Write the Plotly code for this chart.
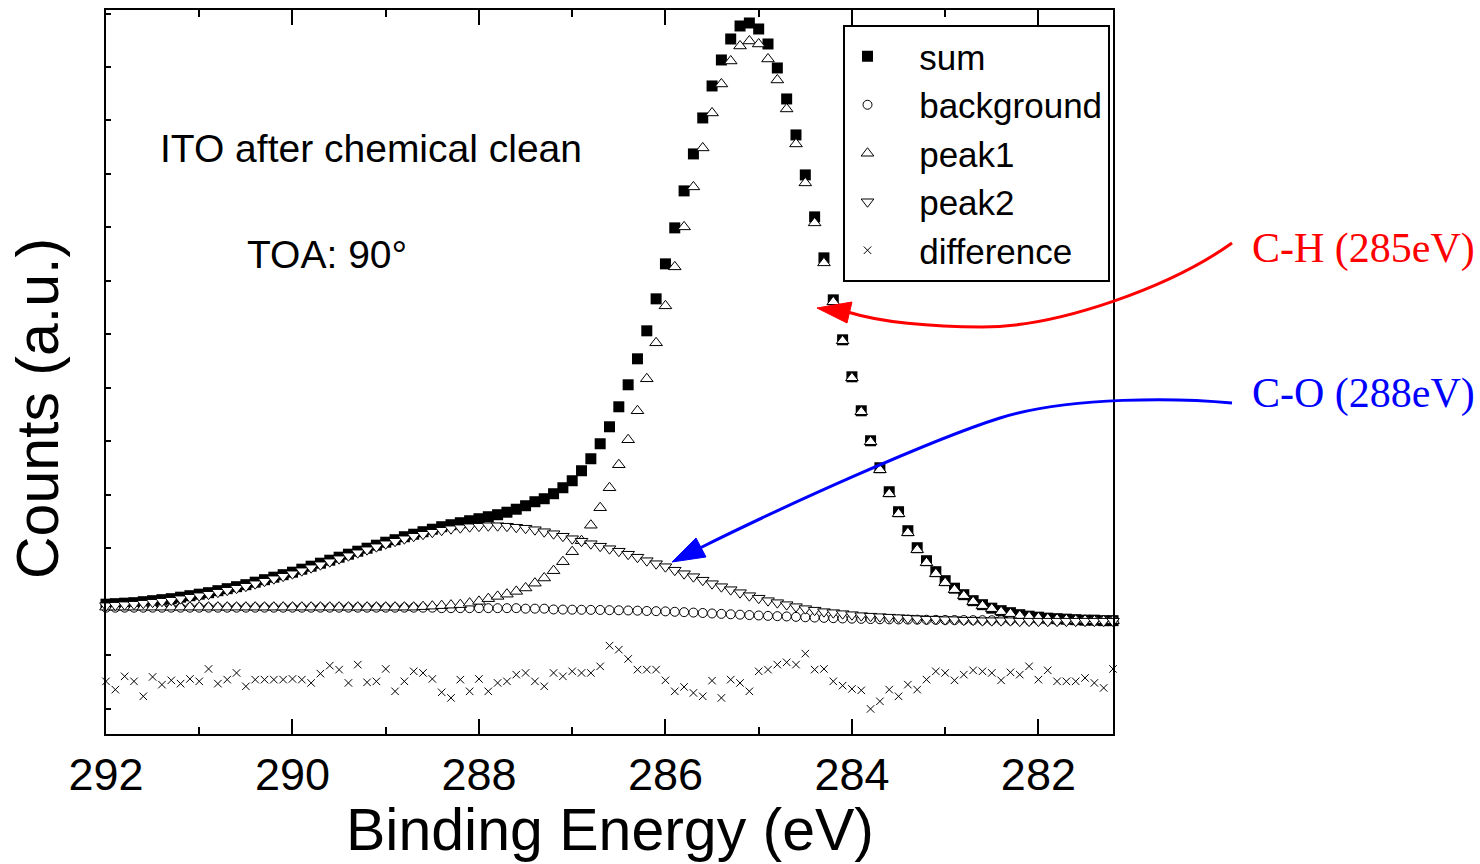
import plotly.graph_objects as go

# ---------------- data (binding energy grid, eV) ----------------
energy = [
    292.0, 291.9, 291.8, 291.7, 291.6, 291.5, 291.4, 291.3, 291.2, 291.1,
    291.0, 290.9, 290.8, 290.7, 290.6, 290.5, 290.4, 290.3, 290.2, 290.1,
    290.0, 289.9, 289.8, 289.7, 289.6, 289.5, 289.4, 289.3, 289.2, 289.1,
    289.0, 288.9, 288.8, 288.7, 288.6, 288.5, 288.4, 288.3, 288.2, 288.1,
    288.0, 287.9, 287.8, 287.7, 287.6, 287.5, 287.4, 287.3, 287.2, 287.1,
    287.0, 286.9, 286.8, 286.7, 286.6, 286.5, 286.4, 286.3, 286.2, 286.1,
    286.0, 285.9, 285.8, 285.7, 285.6, 285.5, 285.4, 285.3, 285.2, 285.1,
    285.0, 284.9, 284.8, 284.7, 284.6, 284.5, 284.4, 284.3, 284.2, 284.1,
    284.0, 283.9, 283.8, 283.7, 283.6, 283.5, 283.4, 283.3, 283.2, 283.1,
    283.0, 282.9, 282.8, 282.7, 282.6, 282.5, 282.4, 282.3, 282.2, 282.1,
    282.0, 281.9, 281.8, 281.7, 281.6, 281.5, 281.4, 281.3, 281.2,
]

sum_counts = [
    129.5, 130, 130.5, 131, 132, 133, 134, 135, 136.5, 138,
    139.5, 141, 143, 145, 147, 149, 151.5, 154, 156.5, 159,
    161.5, 164.5, 167.5, 170.5, 173.5, 176.5, 179.5, 182.5, 185.5, 188.5,
    191.5, 194, 197, 199.5, 202, 204.5, 207, 209, 211, 213,
    215, 217, 219, 221.5, 224.5, 228, 232, 235, 240, 246,
    253, 263, 275, 290, 307, 327, 349, 375, 403, 435,
    470, 506, 543, 580, 616, 648, 674, 695, 708, 711,
    705, 690, 666, 635, 599, 559, 517, 476, 434, 394,
    357, 323, 293, 266, 242, 222, 203, 186, 173, 162,
    153, 145.5, 139, 133, 129, 125.5, 123, 121, 119, 117.5,
    116.5, 115.5, 115, 114.5, 114, 113.5, 113.5, 113, 113,
]

background = [
    126, 126, 126, 126, 126, 126, 126, 126, 126, 126,
    126, 126, 126, 126, 126, 126, 126, 126, 126, 126,
    126, 126, 126, 126, 126, 126, 126, 126, 126, 126,
    126, 126, 126, 126, 126, 126, 125.5, 125.5, 125.5, 125.5,
    125.5, 125.5, 125.5, 125.5, 125.5, 125, 125, 125, 124.2, 124.1,
    124, 123.9, 123.8, 123.7, 123.5, 123.4, 123.2, 123, 122.7, 122.5,
    122.3, 121.9, 121.5, 121.1, 120.7, 120.2, 119.8, 119.4, 119, 118.6,
    118.2, 117.8, 117.5, 117.2, 116.8, 116.4, 116.1, 115.8, 115.5, 115.2,
    115, 114.8, 114.6, 114.4, 114.3, 114.2, 114.1, 114, 113.9, 113.8,
    113.7, 113.6, 113.6, 113.5, 113.5, 113.4, 113.4, 113.3, 113.3, 113.2,
    113.2, 113.1, 113.1, 113.1, 113.1, 113, 113, 113, 113,
]

peak1 = [
    126.5, 126.5, 126.5, 126.5, 126.5, 126.5, 126.5, 126.5, 126.5, 126.5,
    126.5, 126.5, 126.5, 126.5, 126.5, 126.5, 126.5, 126.5, 126.5, 126.5,
    126.5, 126.5, 126.5, 126.5, 126.5, 126.5, 126.5, 126.5, 126.5, 126.5,
    126.5, 126.5, 126.5, 126.5, 127, 127.5, 128, 128.5, 129, 130.5,
    132.3, 135, 137.3, 139.5, 142.3, 145.7, 150.5, 155.7, 163, 172,
    182, 193, 208.5, 226, 246, 269, 294, 323, 355, 391,
    428, 467, 507, 547, 586, 621, 650, 673, 688, 693,
    690, 675, 654, 625, 590, 551, 511, 471, 432, 393,
    356, 322, 292, 264, 240, 220, 201, 184, 171, 160,
    151, 144, 138, 132, 128, 125, 122, 120, 118, 117,
    116, 115, 114.5, 114, 113.5, 113.5, 113, 113, 113,
]

peak2 = [
    128, 128.5, 129, 129.5, 130.5, 131.5, 132.5, 133.5, 135, 136.5,
    138, 139.5, 141.5, 143.5, 145.5, 147.5, 150, 152.5, 155, 157.5,
    160, 163, 166, 169, 172, 175, 178, 181, 184, 187,
    190, 192.5, 195, 197.5, 199.5, 201.5, 203.5, 205, 206, 207,
    207.5, 208, 208, 207.5, 206.5, 205.5, 204, 202, 200, 197.5,
    195, 192.5, 190, 187.5, 185, 182.5, 179.5, 176.5, 173, 170,
    167, 163.5, 160, 157, 153.5, 150, 147, 144, 141, 138,
    135.5, 133, 131, 129, 127, 125, 123.5, 122, 121, 120,
    119, 118, 117.5, 117, 116.5, 116, 115.5, 115, 114.5, 114.5,
    114, 114, 113.5, 113.5, 113, 113, 113, 113, 112.5, 112.5,
    112.5, 112.5, 112.5, 112.5, 112.5, 112.5, 112.5, 112.5, 112.5,
]

difference = [
    52.3, 44, 57.3, 52.3, 37.3, 56.7, 49, 53.3, 50, 54.7,
    52.3, 64.7, 50, 54, 60.7, 47.3, 54, 54, 54, 54,
    54.7, 54, 50.7, 60, 68, 64, 50.7, 69, 51.3, 52.3,
    64.7, 42.3, 52.3, 62.3, 60.7, 54.7, 41.3, 35.7, 54, 42.3,
    54.7, 42.3, 50.7, 52.3, 59, 60.7, 52.3, 47.3, 60.7, 57.3,
    62.3, 60.7, 60.7, 67.3, 88, 84, 74.7, 64, 64, 64,
    53.3, 42.3, 46.7, 40.7, 37.3, 53, 35.7, 54, 50.7, 42.3,
    62.3, 64, 69, 71.3, 69, 80, 64, 64.7, 52.3, 48,
    44.7, 43.3, 24.7, 32.3, 44, 37.3, 49, 44, 54, 62.3,
    60.7, 53.3, 59, 63.3, 62.3, 60.7, 53.3, 61.3, 59, 67.3,
    54, 63.3, 52.3, 52.3, 52.3, 55.7, 50.7, 45.7, 64.7,
]

x_ticks = [292, 290, 288, 286, 284, 282]
x_range = [292.0, 281.2]
y_range = [-0.4, 724]

# ---------------- figure ----------------
W, H = 1480, 864
L, R, T, B = 106, 367, 10, 130
PW, PH = W - L - R, H - T - B

ARIAL = "Arial, Liberation Sans, sans-serif"
TIMES = "Times New Roman, Liberation Serif, serif"
NB = "\u00a0\u00a0\u00a0"   # gap between legend symbol and label


def px(xp, yp):
    """pixel position -> paper coordinates"""
    return (xp - L) / PW, (H - B - yp) / PH


fig = go.Figure()

series = [
    ("sum", sum_counts, dict(symbol="square", size=11, color="black")),
    ("background", background, dict(symbol="circle", size=9, color="white",
                                    line=dict(color="black", width=1))),
    ("peak1", peak1, dict(symbol="triangle-up", size=11, color="white",
                          line=dict(color="black", width=1))),
    ("peak2", peak2, dict(symbol="triangle-down", size=11, color="white",
                          line=dict(color="black", width=1))),
    ("difference", difference, dict(symbol="x-thin-open", size=7.5, color="black",
                                    line=dict(color="black", width=1))),
]
for name, ys, mk in series:
    fig.add_trace(go.Scatter(x=energy, y=ys, mode="markers", name=NB + name,
                             marker=mk, cliponaxis=False, legendgroup=name))


def path_str(points_cmd):
    out = []
    for cmd, pts in points_cmd:
        coords = " ".join("%.5f,%.5f" % px(*p) for p in pts)
        out.append(cmd + coords)
    return " ".join(out)


red_curve = path_str([("M", [(1232, 243)]),
                      ("C", [(1172, 286), (1060, 327), (982, 327)]),
                      ("C", [(930, 327), (880, 322), (849.5, 312.5)])])
red_head = path_str([("M", [(817, 308)]), ("L", [(852, 302)]), ("L", [(847, 323)])]) + " Z"
blue_curve = path_str([("M", [(1232, 403)]),
                       ("C", [(1180, 398), (1070, 396), (1000, 418)]),
                       ("C", [(930, 440), (780, 508), (701, 547.5)])])
blue_head = path_str([("M", [(672, 562)]), ("L", [(696, 538)]), ("L", [(706, 557)])]) + " Z"

shapes = [
    dict(type="path", xref="paper", yref="paper", path=red_curve,
         line=dict(color="#ff0000", width=3)),
    dict(type="path", xref="paper", yref="paper", path=red_head,
         fillcolor="#ff0000", line=dict(color="#ff0000", width=1)),
    dict(type="path", xref="paper", yref="paper", path=blue_curve,
         line=dict(color="#0000ff", width=3)),
    dict(type="path", xref="paper", yref="paper", path=blue_head,
         fillcolor="#0000ff", line=dict(color="#0000ff", width=1)),
]

annotations = []


def add_text(text, xp_, yp_, size, color="black", family=ARIAL, xanchor="left", angle=0):
    xa, ya = px(xp_, yp_)
    annotations.append(dict(text=text, x=xa, y=ya, xref="paper", yref="paper",
                            xanchor=xanchor, yanchor="middle", showarrow=False,
                            textangle=angle,
                            font=dict(size=size, color=color, family=family)))


add_text("ITO after chemical clean", 158, 148, 39)
add_text("TOA: 90°", 245, 254, 39)
add_text("C-H (285eV)", 1250, 248, 42, color="#ff0000", family=TIMES)
add_text("C-O (288eV)", 1250, 393, 42, color="#0000ff", family=TIMES)
add_text("Binding Energy (eV)", 609.5, 830, 59, xanchor="center")
add_text("Counts (a.u.)", 38, 409, 59, xanchor="center", angle=-90)

lx, ly = px(843, 25)
fig.update_layout(
    width=W, height=H,
    margin=dict(l=L, r=R, t=T, b=B, autoexpand=False),
    paper_bgcolor="white", plot_bgcolor="white",
    font=dict(family=ARIAL, color="black"),
    showlegend=True,
    legend=dict(x=lx, y=ly, xanchor="left", yanchor="top",
                bgcolor="white", bordercolor="black", borderwidth=2,
                font=dict(size=35, family=ARIAL, color="black"),
                itemwidth=35, tracegroupgap=0, itemsizing="trace"),
    shapes=shapes,
    annotations=annotations,
    xaxis=dict(range=x_range, tickvals=x_ticks, ticktext=[str(v) for v in x_ticks],
               showgrid=False, zeroline=False, showline=True, linecolor="black",
               linewidth=2, mirror="ticks", ticks="inside", ticklen=15, tickwidth=2,
               tickcolor="black", ticklabelstandoff=0,
               tickfont=dict(size=45, family=ARIAL, color="black"),
               minor=dict(dtick=1, tick0=282, ticks="inside", ticklen=7, tickwidth=2,
                          tickcolor="black", showgrid=False)),
    yaxis=dict(range=y_range, showgrid=False, zeroline=False, showline=True,
               linecolor="black", linewidth=2, mirror=True, ticks="inside",
               tick0=25, dtick=53.5, ticklen=5, tickwidth=1.5, tickcolor="black",
               showticklabels=False),
)

fig.write_html("out.html")
